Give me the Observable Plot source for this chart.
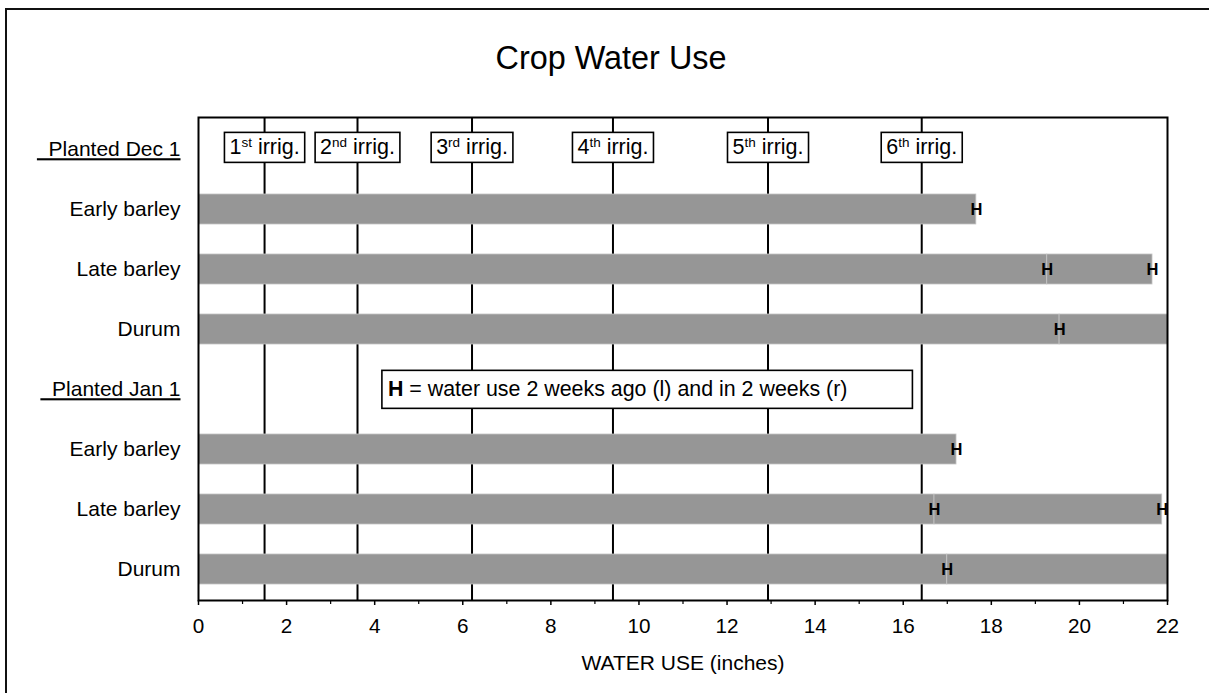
<!DOCTYPE html>
<html><head><meta charset="utf-8">
<script src="https://cdn.jsdelivr.net/npm/d3@7"></script>
<script src="https://cdn.jsdelivr.net/npm/@observablehq/plot@0.6"></script>
<style>
html,body{margin:0;padding:0;background:#fff;}
#wrap{position:relative;width:1209px;height:693px;overflow:hidden;}
#border{position:absolute;left:5px;top:8px;width:1400px;height:900px;border:2.5px solid #111;box-sizing:border-box;}
#chart{position:absolute;left:0;top:0;}
</style></head><body>
<div id="wrap"><div id="border"></div><div id="chart"></div></div>
<script>
// ---- data ----
const title = "Crop Water Use";
const xLabel = "WATER USE (inches)";
const groups = ["Planted Dec 1", "Planted Jan 1"];
const crops = ["Early barley", "Late barley", "Durum"];
// water use 2 weeks ago (left H) and in 2 weeks (right H), per group x crop
const twoWeeksAgo = [17.66, 19.27, 19.55, 17.21, 16.71, 17.00];
const inTwoWeeks  = [17.66, 21.66, 22.6, 17.21, 21.88, 22.6];
const irrigations = [1.5, 3.61, 6.21, 9.41, 12.93, 16.42];
const irrigationOrdinals = ["st", "nd", "rd", "th", "th", "th"];
const xTicks = [0, 2, 4, 6, 8, 10, 12, 14, 16, 18, 20, 22];
const xMinorTicks = [1, 3, 5, 7, 9, 11, 13, 15, 17, 19, 21];
const legendParts = ["H", " = water use 2 weeks ago (l) and in 2 weeks (r)"];

// ---- derived tables ----
const rows = [];
groups.forEach((g, gi) => {
  rows.push(`${gi}|\u00a0\u00a0${g}`);
  crops.forEach(c => rows.push(`${gi}|${c}`));
});
const rowLabel = k => k.split("|")[1];
const segments = [], hMarks = [];
groups.forEach((g, gi) => crops.forEach((c, ci) => {
  const i = gi * crops.length + ci;
  const key = `${gi}|${c}`;
  const a = twoWeeksAgo[i], b = inTwoWeeks[i];
  segments.push({key, x1: 0, x2: a});
  if (b > a) segments.push({key, x1: a, x2: b});
  hMarks.push({key, x: a});
  if (b !== a) hMarks.push({key, x: b});
}));
const headerDec = rows[0], headerJan = rows[crops.length + 1];
const legendX = 4.3;
const legendText = legendParts.join("");
const irrigationText = irrigations.map((d, i) => `#${i + 1}`);
const font = "'Liberation Sans', Arial, Helvetica, sans-serif";

const plot = Plot.plot({
  width: 1209, height: 693,
  marginLeft: 198, marginRight: 42, marginTop: 117, marginBottom: 93,
  x: {domain: [0, 22]},
  y: {domain: rows, paddingInner: 0.5, paddingOuter: 0.25, align: 0.5},
  style: {fontFamily: font, fontSize: "21px", background: "transparent", color: "black"},
  marks: [
    Plot.ruleX(irrigations, {x: d => d, stroke: "black", strokeWidth: 2}),
    Plot.barX(segments, {x1: "x1", x2: "x2", y: "key", fill: "#969696", stroke: "#c4c4c4", strokeWidth: 0.8, clip: true}),
    Plot.text(hMarks, {x: "x", y: "key", text: () => "H", fontWeight: "bold", fontSize: 16.5, fill: "black", clip: true}),
    Plot.text(irrigations, {x: d => d, y: () => headerDec, text: (d, i) => irrigationText[i], dy: -2, fontSize: 21.5, fill: "black"}),
    Plot.text([legendText], {x: () => legendX, y: () => headerJan, textAnchor: "start", fontSize: 21.4, fill: "black"}),
    Plot.frame({stroke: "black", strokeWidth: 2}),
    Plot.axisY({tickSize: 0, tickPadding: 18, tickFormat: rowLabel, fontSize: 21, label: null}),
    Plot.axisX({ticks: xTicks, tickSize: 5, tickPadding: 13, fontSize: 20.7, label: null, strokeWidth: 1.5}),
    Plot.axisX({ticks: xMinorTicks, tickSize: 4, tickFormat: () => "", label: null, strokeWidth: 1.2}),
    Plot.text([xLabel], {frameAnchor: "bottom", lineAnchor: "middle", dy: 63, fontSize: 21, fill: "black"}),
    Plot.text([title], {frameAnchor: "top", lineAnchor: "middle", dx: -72, dy: -59, fontSize: 32.4, fill: "black"})
  ]
});
document.getElementById("chart").appendChild(plot);

function boxBehind(textEl, refEl, padL, padR, h, lw) {
  const bb = textEl.getBBox();
  const rb = refEl.getBBox();
  const cy = rb.y + rb.height / 2;
  const r = document.createElementNS("http://www.w3.org/2000/svg", "rect");
  r.setAttribute("x", bb.x - padL);
  r.setAttribute("y", cy - h / 2);
  r.setAttribute("width", bb.width + padL + padR);
  r.setAttribute("height", h);
  r.setAttribute("fill", "white");
  r.setAttribute("stroke", "black");
  r.setAttribute("stroke-width", lw);
  const tr = textEl.getAttribute("transform");
  if (tr) r.setAttribute("transform", tr);
  textEl.parentNode.insertBefore(r, textEl);
}

const svg = d3.select(plot);
svg.selectAll("text").each(function() {
  const content = this.textContent;
  const k = irrigationText.indexOf(content);
  if (k >= 0) {
    const t = d3.select(this);
    t.text(null);
    const num = t.append("tspan").text(String(k + 1));
    t.append("tspan").attr("font-size", 13.5).attr("dy", -7.5).text(irrigationOrdinals[k]);
    t.append("tspan").attr("dy", 7.5).text(" irrig.");
    boxBehind(this, num.node(), 5, 5, 30, 1.6);
  } else if (content === legendText) {
    const t = d3.select(this);
    t.text(null);
    const h = t.append("tspan").attr("font-weight", "bold").text(legendParts[0]);
    t.append("tspan").text(legendParts[1]);
    boxBehind(this, h.node(), 6, 65, 38, 1.6);
  }
});
// underline group headers
svg.selectAll("text")
  .filter(function() { return this.textContent.includes("Planted"); })
  .style("text-decoration", "underline");
</script>
</body></html>
